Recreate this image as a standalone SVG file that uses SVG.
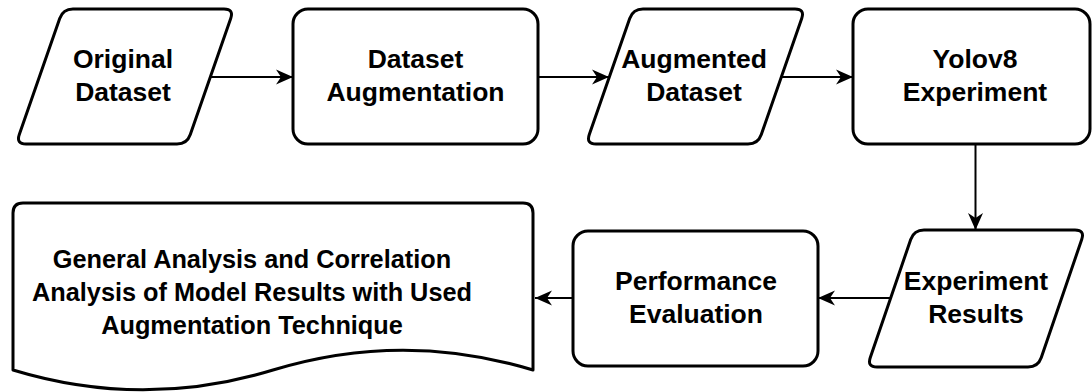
<svg xmlns="http://www.w3.org/2000/svg" width="1092" height="392" viewBox="0 0 1092 392">
<style>
.n{fill:#fff;stroke:#000;stroke-width:3;stroke-linejoin:round}
.t{font-family:"Liberation Sans",Arial,sans-serif;font-weight:bold;font-size:26.5px;text-anchor:middle;fill:#000}
.d{font-size:25.3px}
.c{fill:none;stroke:#000;stroke-width:2}
</style>
<defs>
<marker id="ah" markerUnits="userSpaceOnUse" viewBox="0 0 18 18" markerWidth="18" markerHeight="18" refX="17" refY="9" orient="auto">
<path d="M0,1.5 L17,9 L0,16.5 L5,9 Z" fill="#000"/>
</marker>
</defs>
<rect width="1092" height="392" fill="#fff"/>
<g id="original-dataset">
<path class="n" d="M73,9 H224 Q234,9 230.7,18.5 L190.3,134.5 Q187,144 177,144 H26 Q16,144 19.3,134.5 L59.7,18.5 Q63,9 73,9 Z"/>
<text class="t" x="123" y="68">Original</text>
<text class="t" x="123" y="101">Dataset</text>
</g>
<g id="dataset-augmentation">
<rect class="n" x="293" y="9" width="245" height="135" rx="15"/>
<text class="t" x="415.5" y="68">Dataset</text>
<text class="t" x="415.5" y="101">Augmentation</text>
</g>
<g id="augmented-dataset">
<path class="n" d="M643,9 H795 Q805,9 801.7,18.5 L761.3,134.5 Q758,144 748,144 H596 Q586,144 589.3,134.5 L629.7,18.5 Q633,9 643,9 Z"/>
<text class="t" x="694" y="68">Augmented</text>
<text class="t" x="694" y="101">Dataset</text>
</g>
<g id="yolov8-experiment">
<rect class="n" x="853" y="9" width="237" height="135" rx="15"/>
<text class="t" x="975" y="68">Yolov8</text>
<text class="t" x="975" y="101">Experiment</text>
</g>
<g id="experiment-results">
<path class="n" d="M924,230 H1075 Q1085,230 1081.7,239.5 L1041.3,357.5 Q1038,367 1028,367 H877 Q867,367 870.3,357.5 L910.7,239.5 Q914,230 924,230 Z"/>
<text class="t" x="976" y="290">Experiment</text>
<text class="t" x="976" y="323">Results</text>
</g>
<g id="performance-evaluation">
<rect class="n" x="573" y="231" width="245" height="135" rx="15"/>
<text class="t" x="696" y="290">Performance</text>
<text class="t" x="696" y="323">Evaluation</text>
</g>
<g id="general-analysis">
<path class="n" d="M23,203 H523 Q533,203 533,213 V370 Q403,330.4 273,370 Q143,409.6 13,370 V213 Q13,203 23,203 Z"/>
<text class="t d" x="252" y="268">General Analysis and Correlation</text>
<text class="t d" x="252" y="301">Analysis of Model Results with Used</text>
<text class="t d" x="252" y="334">Augmentation Technique</text>
</g>
<g id="connectors">
<path class="c" d="M211,77 H293" marker-end="url(#ah)"/>
<path class="c" d="M538,77 H609" marker-end="url(#ah)"/>
<path class="c" d="M782,77 H853" marker-end="url(#ah)"/>
<path class="c" d="M975.5,144 V230" marker-end="url(#ah)"/>
<path class="c" d="M890,298 H818" marker-end="url(#ah)"/>
<path class="c" d="M573,298 H535" marker-end="url(#ah)"/>
</g>
</svg>
